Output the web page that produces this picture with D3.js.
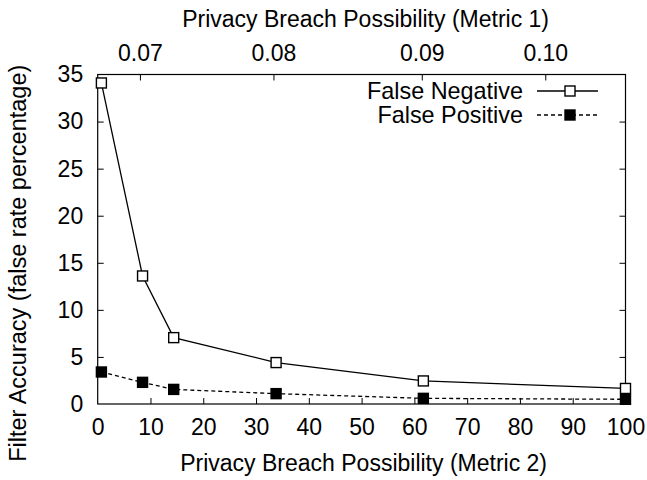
<!DOCTYPE html>
<html>
<head>
<meta charset="utf-8">
<script src="https://cdn.jsdelivr.net/npm/d3@7"></script>
<style>
  html, body { margin: 0; padding: 0; background: #fff; }
  svg { display: block; }
  text { font-family: "Liberation Sans", Arial, Helvetica, sans-serif; fill: #000; }
</style>
</head>
<body>
<svg id="chart" width="647" height="480"></svg>
<script>
// Metric 2 positions of the measurements
const metric2 = [0.7, 8.5, 14.4, 33.8, 61.7, 100];
// False rates (%)
const falseNegative = [34.1, 13.6, 7.05, 4.4, 2.45, 1.65];
const falsePositive = [3.4, 2.3, 1.55, 1.1, 0.6, 0.5];

// Bottom / left ticks
const xTicks = [0, 10, 20, 30, 40, 50, 60, 70, 80, 90, 100];
const yTicks = [0, 5, 10, 15, 20, 25, 30, 35];
// Top axis: Metric 1 labels placed at their Metric 2 equivalents
const metric1Labels = ["0.07", "0.08", "0.09", "0.10"];
const metric1At = [8.0, 33.3, 61.4, 84.8];

const svg = d3.select("#chart");
const m = { left: 97.7, right: 625.5, top: 74.5, bottom: 404 };

const x = d3.scaleLinear().domain([0, 100]).range([m.left, m.right]);
const y = d3.scaleLinear().domain([0, 35]).range([m.bottom, m.top]);

const tickLen = 6;
const tickFont = "23px";

// Bottom axis
const axBottom = svg.append("g").attr("transform", `translate(0,${m.bottom})`)
  .call(d3.axisBottom(x).tickValues(xTicks).tickSizeInner(-tickLen).tickSizeOuter(0).tickPadding(15));
// Left axis
const axLeft = svg.append("g").attr("transform", `translate(${m.left},0)`)
  .call(d3.axisLeft(y).tickValues(yTicks).tickSizeInner(-tickLen).tickSizeOuter(0).tickPadding(14.5));
// Top axis
const axTop = svg.append("g").attr("transform", `translate(0,${m.top})`)
  .call(d3.axisTop(x).tickValues(metric1At).tickFormat((d, i) => metric1Labels[i])
    .tickSizeInner(-tickLen).tickSizeOuter(0).tickPadding(14));
// Right axis (mirrored ticks, no labels)
const axRight = svg.append("g").attr("transform", `translate(${m.right},0)`)
  .call(d3.axisRight(y).tickValues(yTicks.filter(v => v > 0 && v < 35)).tickFormat("")
    .tickSizeInner(-tickLen).tickSizeOuter(0));

[axBottom, axLeft, axTop, axRight].forEach(g => {
  g.select(".domain").remove();
  g.selectAll("line").attr("stroke", "#000").attr("stroke-width", 1);
  g.selectAll("text").style("font-size", tickFont).attr("fill", "#000")
    .style("font-family", '"Liberation Sans", Arial, Helvetica, sans-serif');
});
// No ticks drawn on the frame corners
axBottom.selectAll(".tick").filter(d => d === 0 || d === 100).select("line").remove();
axLeft.selectAll(".tick").filter(d => d === 0 || d === 35).select("line").remove();

// Frame
svg.append("rect")
  .attr("x", m.left).attr("y", m.top)
  .attr("width", m.right - m.left).attr("height", m.bottom - m.top)
  .attr("fill", "none").attr("stroke", "#000").attr("stroke-width", 1.2);

// Axis titles
const titleFont = "23px";
svg.append("text").attr("x", (m.left + m.right) / 2 + 2).attr("y", 463)
  .attr("text-anchor", "middle").attr("dominant-baseline", "central")
  .style("font-size", titleFont).text("Privacy Breach Possibility (Metric 2)");
svg.append("text").attr("x", (m.left + m.right) / 2 + 4).attr("y", 19)
  .attr("text-anchor", "middle").attr("dominant-baseline", "central")
  .style("font-size", titleFont).text("Privacy Breach Possibility (Metric 1)");
svg.append("text")
  .attr("transform", `translate(18,${(m.top + m.bottom) / 2 + 24}) rotate(-90)`)
  .attr("text-anchor", "middle").attr("dominant-baseline", "central")
  .style("font-size", "23.5px").text("Filter Accuracy (false rate percentage)");

// Series
const series = [
  { name: "False Negative", values: falseNegative, dash: null, fill: "#fff", ly: 91 },
  { name: "False Positive", values: falsePositive, dash: "4,3", fill: "#000", ly: 115 }
];
const line = d3.line().x(d => x(d[0])).y(d => y(d[1]));
const ms = 10;

series.forEach(s => {
  const pts = metric2.map((v, i) => [v, s.values[i]]);
  svg.append("path").datum(pts).attr("d", line)
    .attr("fill", "none").attr("stroke", "#000").attr("stroke-width", 1.3)
    .attr("stroke-dasharray", s.dash);
  svg.append("g").selectAll("rect").data(pts).join("rect")
    .attr("x", d => x(d[0]) - ms / 2).attr("y", d => y(d[1]) - ms / 2)
    .attr("width", ms).attr("height", ms)
    .attr("fill", s.fill).attr("stroke", "#000").attr("stroke-width", 1.4);

  // Legend entry
  svg.append("text").attr("x", 523).attr("y", s.ly)
    .attr("text-anchor", "end").attr("dominant-baseline", "central")
    .style("font-size", "23.4px").text(s.name);
  svg.append("line").attr("x1", 537).attr("x2", 598).attr("y1", s.ly).attr("y2", s.ly)
    .attr("stroke", "#000").attr("stroke-width", 1.3).attr("stroke-dasharray", s.dash);
  svg.append("rect").attr("x", 570 - ms / 2).attr("y", s.ly - ms / 2)
    .attr("width", ms).attr("height", ms)
    .attr("fill", s.fill).attr("stroke", "#000").attr("stroke-width", 1.4);
});
</script>
</body>
</html>
